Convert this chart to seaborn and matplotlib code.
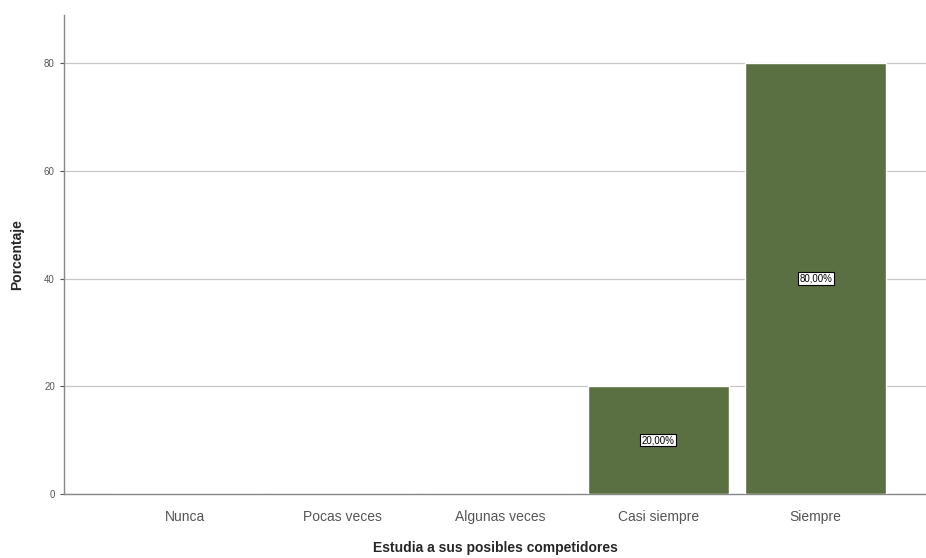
import matplotlib
matplotlib.use("Agg")
import matplotlib.pyplot as plt
import seaborn as sns
import pandas as pd

# Datos
categorias = ["Nunca", "Pocas veces", "Algunas veces", "Casi siempre", "Siempre"]
porcentajes = [0, 0, 0, 20, 80]
etiquetas = ["", "", "", "20,00%", "80,00%"]

df = pd.DataFrame({"categoria": categorias, "porcentaje": porcentajes})

sns.set_style("white")
plt.rcParams['font.family'] = ['Liberation Sans', 'DejaVu Sans']

fig = plt.figure(figsize=(9.26, 5.58), dpi=100)
ax = fig.add_axes([0.069, 0.115, 0.931, 0.858])

sns.barplot(data=df, x="categoria", y="porcentaje", order=categorias,
            color="#5b7042", saturation=1, width=0.895, ax=ax, zorder=3)

# etiquetas dentro de las barras
for i, (v, t) in enumerate(zip(porcentajes, etiquetas)):
    if t:
        ax.text(i, v / 2, t, ha="center", va="center", fontsize=7, color="black", zorder=5,
                bbox=dict(boxstyle="square,pad=0.15", fc="white", ec="black", lw=0.8))

ax.set_xlim(-0.77, 4.70)
ax.set_ylim(0, 89)
ax.set_yticks([0, 20, 40, 60, 80])
ax.yaxis.grid(True, color="#c8c8c8", lw=0.9, zorder=0)
ax.set_axisbelow(True)

for s in ["top", "right"]:
    ax.spines[s].set_visible(False)
for s in ["left", "bottom"]:
    ax.spines[s].set_color("#888888")
    ax.spines[s].set_linewidth(1.0)

ax.tick_params(axis="y", labelsize=7, colors="#555555", length=3, left=True, width=0.8)
ax.tick_params(axis="x", labelsize=10, colors="#555555", length=0, pad=12)
for lbl in ax.get_xticklabels():
    lbl.set_color("#555555")

ax.set_xlabel("Estudia a sus posibles competidores", fontsize=10, fontweight="bold", labelpad=12)
ax.set_ylabel("Porcentaje", fontsize=10, fontweight="bold", labelpad=14)

plt.savefig("out.png", dpi=100)
